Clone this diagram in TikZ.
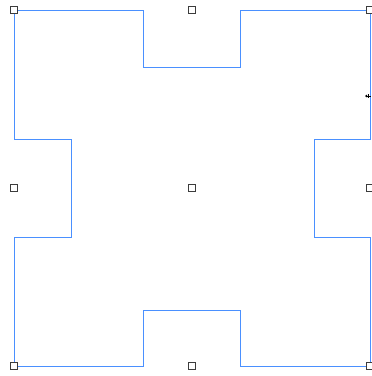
\documentclass[tikz,border=0pt]{standalone}
\definecolor{outl}{RGB}{74,144,255}
\definecolor{hdl}{RGB}{60,60,60}
\begin{document}
\begin{tikzpicture}[x=1pt,y=-1pt,
  handle/.style={draw=hdl,fill=white,line width=0.9pt,minimum size=7pt,inner sep=0pt,outer sep=0pt,rectangle},
  outline/.style={draw=outl,line width=1pt}]
\useasboundingbox (0,0) rectangle (372,376);
\draw[outline] (14,10) -- (143,10) -- (143,67) -- (240,67) -- (240,10) -- (370,10)
  -- (370,139) -- (314,139) -- (314,237) -- (370,237) -- (370,366)
  -- (240,366) -- (240,310) -- (143,310) -- (143,366) -- (14,366)
  -- (14,237) -- (71,237) -- (71,139) -- (14,139) -- cycle;
\node[handle] (tl) at (14,10) {};
\node[handle] (tc) at (192,10) {};
\node[handle] (tr) at (369.5,10) {};
\node[handle] (ml) at (14,188) {};
\node[handle] (mc) at (192,188) {};
\node[handle] (mr) at (369.5,188) {};
\node[handle] (bl) at (14,366) {};
\node[handle] (bc) at (192,366) {};
\node[handle] (br) at (369.5,366) {};
% cursor
\draw[black,line width=0.6pt] (366,96) -- (371,96);
\draw[black,line width=0.6pt] (368.5,94) -- (368.5,98);
\fill[black] (365,96) -- (367,94.5) -- (367,97.5) -- cycle;
\end{tikzpicture}
\end{document}
